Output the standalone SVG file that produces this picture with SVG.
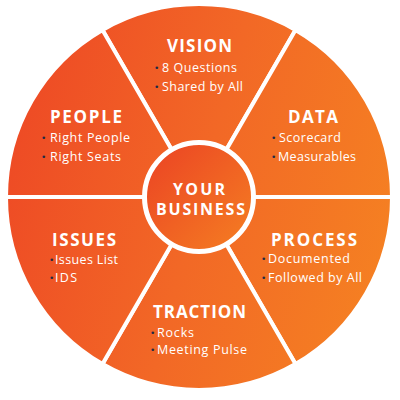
<svg xmlns="http://www.w3.org/2000/svg" width="400" height="400" viewBox="0 0 400 400">
  <defs>
    <linearGradient id="wheel" gradientUnits="userSpaceOnUse" x1="8" y1="150" x2="390" y2="250">
      <stop offset="0" stop-color="#EE4B25"/>
      <stop offset="0.5" stop-color="#F26826"/>
      <stop offset="1" stop-color="#F58022"/>
    </linearGradient>
    <linearGradient id="hub" gradientUnits="userSpaceOnUse" x1="155" y1="155" x2="245" y2="240">
      <stop offset="0" stop-color="#EC4824"/>
      <stop offset="1" stop-color="#F47A22"/>
    </linearGradient>
    <style>
      .seg { fill: url(#wheel); stroke: #ffffff; stroke-width: 4; stroke-linejoin: miter; }
      .title { font-family: "Open Sans", "DejaVu Sans", sans-serif; font-weight: 700; font-size: 17px; fill: #ffffff; }
      .hubtitle { font-family: "Open Sans", "DejaVu Sans", sans-serif; font-weight: 700; font-size: 16px; fill: #ffffff; }
      .item { font-family: "Open Sans", "DejaVu Sans", sans-serif; font-weight: 400; font-size: 12.5px; fill: #ffffff; }
      .dot { font-family: "DejaVu Sans", sans-serif; font-size: 9px; fill: #1F2A44; }
    </style>
  </defs>
  <rect width="400" height="400" fill="#ffffff"/>

  <g id="vision">
    <path class="seg" d="M199 197 L102.5 29.9 A193 193 0 0 1 295.5 29.9 Z"/>
    <text class="title" x="167" y="52" textLength="65" lengthAdjust="spacing">VISION</text>
    <text class="dot" x="154" y="71">•</text>
    <text class="item" x="162" y="72" textLength="75" lengthAdjust="spacing">8 Questions</text>
    <text class="dot" x="154" y="90">•</text>
    <text class="item" x="162" y="91" textLength="81" lengthAdjust="spacing">Shared by All</text>
  </g>

  <g id="data">
    <path class="seg" d="M199 197 L295.5 29.9 A193 193 0 0 1 392 197 Z"/>
    <text class="title" x="288" y="123" textLength="50" lengthAdjust="spacing">DATA</text>
    <text class="dot" x="271" y="141">•</text>
    <text class="item" x="279" y="142" textLength="62" lengthAdjust="spacing">Scorecard</text>
    <text class="dot" x="271" y="160">•</text>
    <text class="item" x="278" y="161" textLength="78" lengthAdjust="spacing">Measurables</text>
  </g>

  <g id="process">
    <path class="seg" d="M199 197 L392 197 A193 193 0 0 1 295.5 364.1 Z"/>
    <text class="title" x="271" y="246" textLength="86" lengthAdjust="spacing">PROCESS</text>
    <text class="dot" x="261" y="262">•</text>
    <text class="item" x="268" y="263" textLength="82" lengthAdjust="spacing">Documented</text>
    <text class="dot" x="261" y="281">•</text>
    <text class="item" x="268" y="282" textLength="94" lengthAdjust="spacing">Followed by All</text>
  </g>

  <g id="traction">
    <path class="seg" d="M199 197 L295.5 364.1 A193 193 0 0 1 102.5 364.1 Z"/>
    <text class="title" x="153" y="318" textLength="93" lengthAdjust="spacing">TRACTION</text>
    <text class="dot" x="150" y="336">•</text>
    <text class="item" x="157" y="337" textLength="37" lengthAdjust="spacing">Rocks</text>
    <text class="dot" x="150" y="353">•</text>
    <text class="item" x="157" y="354" textLength="90" lengthAdjust="spacing">Meeting Pulse</text>
  </g>

  <g id="issues">
    <path class="seg" d="M199 197 L102.5 364.1 A193 193 0 0 1 6 197 Z"/>
    <text class="title" x="52" y="246" textLength="64" lengthAdjust="spacing">ISSUES</text>
    <text class="dot" x="49" y="263">•</text>
    <text class="item" x="55" y="264" textLength="63" lengthAdjust="spacing">Issues List</text>
    <text class="dot" x="49" y="281">•</text>
    <text class="item" x="55" y="282" textLength="22" lengthAdjust="spacing">IDS</text>
  </g>

  <g id="people">
    <path class="seg" d="M199 197 L6 197 A193 193 0 0 1 102.5 29.9 Z"/>
    <text class="title" x="50" y="123" textLength="72" lengthAdjust="spacing">PEOPLE</text>
    <text class="dot" x="41" y="141">•</text>
    <text class="item" x="50" y="142" textLength="80" lengthAdjust="spacing">Right People</text>
    <text class="dot" x="41" y="160">•</text>
    <text class="item" x="50" y="161" textLength="71" lengthAdjust="spacing">Right Seats</text>
  </g>

  <g id="your-business">
    <circle cx="199" cy="197" r="54.5" fill="url(#hub)" stroke="#ffffff" stroke-width="5"/>
    <text class="hubtitle" x="173" y="195" textLength="52" lengthAdjust="spacing">YOUR</text>
    <text class="hubtitle" x="156" y="215" textLength="89" lengthAdjust="spacing">BUSINESS</text>
  </g>
</svg>
